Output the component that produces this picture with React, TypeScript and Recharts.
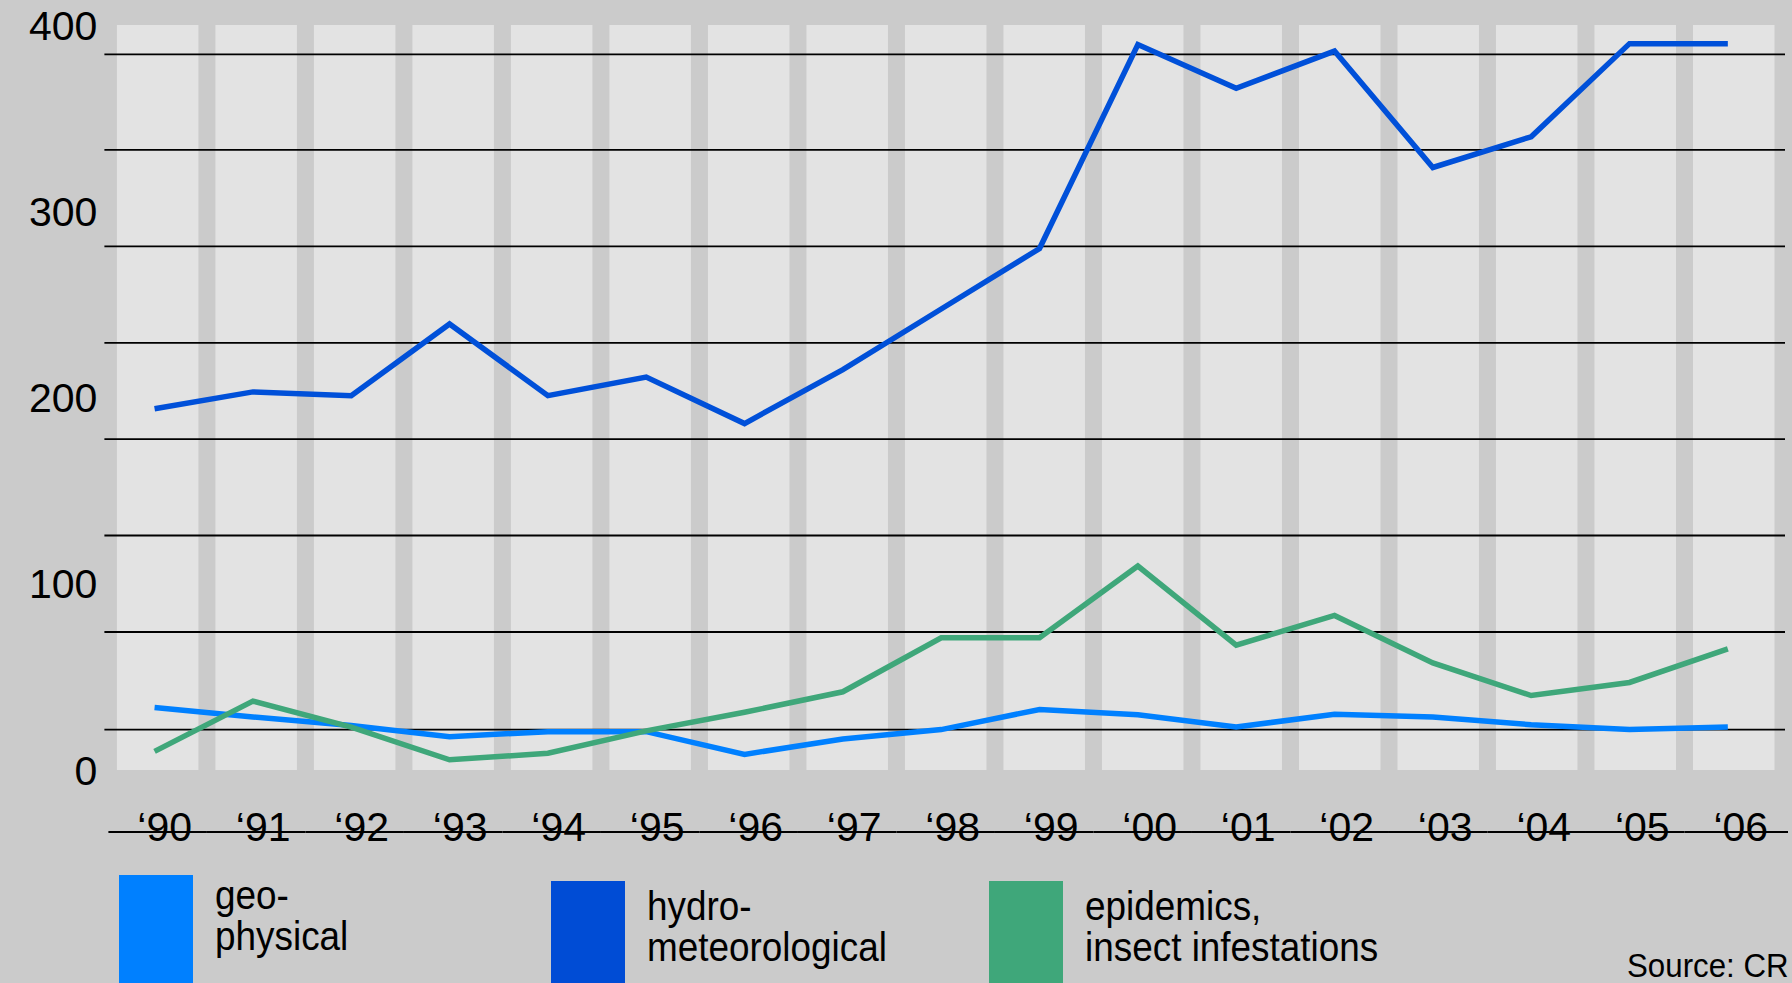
import {
  ComposedChart,
  Line,
  ReferenceArea,
  ReferenceLine,
  XAxis,
  YAxis,
} from "recharts";

const years = [
  "\u201890", "\u201891", "\u201892", "\u201893", "\u201894", "\u201895",
  "\u201896", "\u201897", "\u201898", "\u201899", "\u201800", "\u201801",
  "\u201802", "\u201803", "\u201804", "\u201805", "\u201806",
];

const geophysical = [
  33.6, 28.5, 23.9, 17.9, 20.6, 20.6, 8.4, 16.6, 21.7, 32.5, 29.7, 23.1, 29.9,
  28.5, 24.3, 21.7, 23.1,
];
const hydroMeteorological = [
  194, 203, 201, 239.5, 201, 211, 186, 215, 247.5, 280, 389.5, 366, 386, 323.5,
  340, 390, 390,
];
const epidemics = [
  10, 37, 23, 5.5, 9, 21, 31, 42, 71, 71, 109.5, 67, 83, 57.5, 40, 47, 65,
];

const yTicks = [0, 100, 200, 300, 400];
// the black rules don't sit on the tick values in the original
const ruleValues = [21.7, 74.1, 125.9, 177.7, 229.3, 281.1, 332.9, 384.2];

const series = [
  { key: "geo", name: ["geo-", "physical"], color: "#0080ff", swatch: "#0080ff" },
  { key: "hydro", name: ["hydro-", "meteorological"], color: "#0050d9", swatch: "#004cd5" },
  { key: "epi", name: ["epidemics,", "insect infestations"], color: "#3fa77a", swatch: "#3fa77a" },
];

const data = years.map((year, i) => ({
  year,
  geo: geophysical[i],
  hydro: hydroMeteorological[i],
  epi: epidemics[i],
}));

const W = 1792;
const H = 983;
const FONT = "'Liberation Sans', Arial, Helvetica, sans-serif";
const BG = "#cbcbcb";
const COLUMN = "#e3e3e3";
const GAP = 17;
const PLOT_LEFT = 108.4;
const PLOT_RIGHT = 1783;
const BAND = (PLOT_RIGHT - PLOT_LEFT) / years.length;

// legend placement (swatch left, swatch top, first baseline)
const legendLayout = [
  { x: 119, top: 875, baseline: 909 },
  { x: 551, top: 881, baseline: 920 },
  { x: 989, top: 881, baseline: 920 },
];

function Column(props: any) {
  const { x, y, width, height } = props;
  return (
    <rect
      x={x + GAP / 2}
      y={y}
      width={Math.max(0, width - GAP)}
      height={height}
      fill={COLUMN}
    />
  );
}

function Rule(props: any) {
  const { x1, x2, y1, y2 } = props;
  return <line x1={x1 - 4} x2={x2 + 2} y1={y1} y2={y2} stroke="#000" strokeWidth={1.8} />;
}

function YearTick(props: any) {
  const { x, y, payload, index } = props;
  const last = index === years.length - 1;
  return (
    <g>
      <line
        x1={x - BAND / 2}
        x2={x + BAND / 2 + (last ? 5 : 0)}
        y1={y + 62}
        y2={y + 62}
        stroke="#000"
        strokeWidth={1.8}
      />
      <text
        x={x + 7}
        y={y + 71}
        textAnchor="middle"
        fontFamily={FONT}
        fontSize={41}
        fill="#000"
      >
        {payload.value}
      </text>
    </g>
  );
}

function LegendOverlay() {
  return (
    <svg
      width={W}
      height={H}
      style={{ position: "absolute", left: 0, top: 0, pointerEvents: "none" }}
    >
      {series.map((s, i) => {
        const pos = legendLayout[i];
        return (
          <g key={s.key}>
            <rect x={pos.x} y={pos.top} width={74} height={H - pos.top} fill={s.swatch} />
            {s.name.map((line, j) => (
              <text
                key={line}
                transform={`translate(${pos.x + 96} ${pos.baseline + j * 41}) scale(0.9 1)`}
                fontFamily={FONT}
                fontSize={41}
                fill="#000"
              >
                {line}
              </text>
            ))}
          </g>
        );
      })}
      <text
        transform="translate(1627 977) scale(0.92 1)"
        fontFamily={FONT}
        fontSize={34}
        fill="#000"
      >
        Source: CR
      </text>
    </svg>
  );
}

export default function App() {
  return (
    <div
      style={{
        position: "absolute",
        left: 0,
        top: 0,
        width: W,
        height: H,
        background: BG,
        overflow: "hidden",
      }}
    >
      <ComposedChart
        width={W}
        height={H}
        data={data}
        margin={{ top: 25, right: W - PLOT_RIGHT, bottom: 133, left: 0 }}
      >
        <XAxis
          dataKey="year"
          type="category"
          scale="band"
          height={80}
          interval={0}
          axisLine={false}
          tickLine={false}
          tickSize={0}
          tickMargin={0}
          tick={<YearTick />}
        />
        {/* the lines sit a few px left of the column centres in the original */}
        <XAxis
          xAxisId="pts"
          dataKey="year"
          type="category"
          scale="band"
          padding={{ left: -3, right: 6 }}
          hide
        />
        <YAxis
          type="number"
          domain={[0, 400]}
          ticks={yTicks}
          interval={0}
          width={PLOT_LEFT}
          axisLine={false}
          tickLine={false}
          tickSize={0}
          tickMargin={11}
          tick={{ fill: "#000", fontSize: 41, fontFamily: FONT }}
        />

        {years.map((year) => (
          <ReferenceArea key={year} x1={year} x2={year} shape={<Column />} ifOverflow="visible" />
        ))}

        {ruleValues.map((v) => (
          <ReferenceLine key={v} y={v} shape={<Rule />} ifOverflow="visible" />
        ))}

        <Line
          xAxisId="pts"
          type="linear"
          dataKey="hydro"
          stroke={series[1].color}
          strokeWidth={5.5}
          dot={false}
          activeDot={false}
          isAnimationActive={false}
        />
        <Line
          xAxisId="pts"
          type="linear"
          dataKey="geo"
          stroke={series[0].color}
          strokeWidth={5.5}
          dot={false}
          activeDot={false}
          isAnimationActive={false}
        />
        <Line
          xAxisId="pts"
          type="linear"
          dataKey="epi"
          stroke={series[2].color}
          strokeWidth={5.5}
          dot={false}
          activeDot={false}
          isAnimationActive={false}
        />
      </ComposedChart>
      <LegendOverlay />
    </div>
  );
}
